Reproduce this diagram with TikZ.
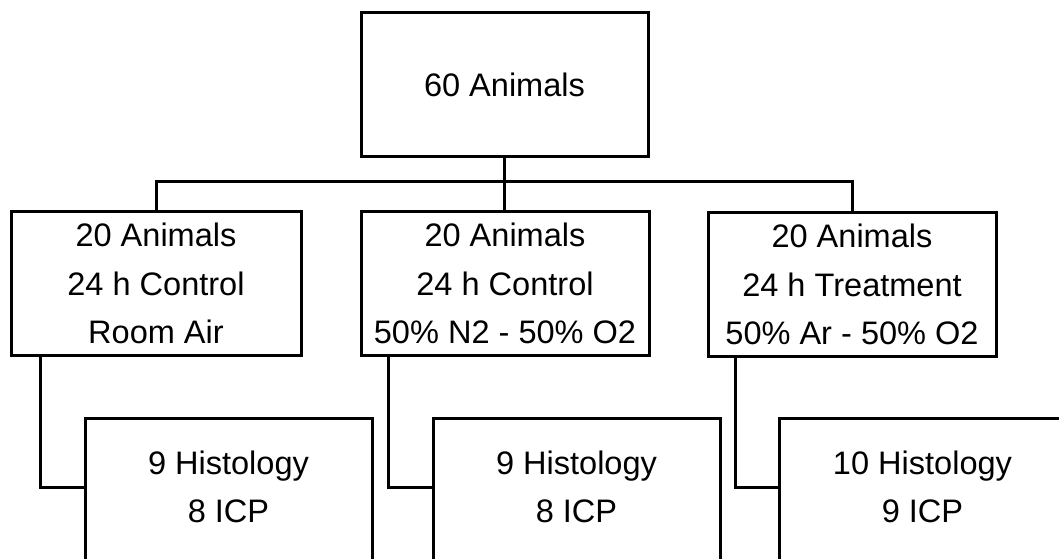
\documentclass[tikz,border=0pt]{standalone}
\usepackage{fontspec}
\setmainfont{Liberation Sans}
\usetikzlibrary{calc}
\tikzset{
  box/.style={draw, line width=2.25pt, inner sep=0pt, align=center,
    font=\fontsize{24.4pt}{36.4pt}\selectfont},
  lowbox/.style={draw, line width=2.25pt, inner sep=0pt, anchor=north,
    minimum width={287*0.75pt}, minimum height={200*0.75pt}},
  lowtext/.style={inner sep=0pt, align=center,
    font=\fontsize{24.4pt}{36.4pt}\selectfont},
  link/.style={line width=2.25pt}
}
\begin{document}
\begin{tikzpicture}[x=0.75pt,y=-0.75pt]
\useasboundingbox (0,0) rectangle (1059,559);
\clip (0,0) rectangle (1059,559);
\fill[white] (0,0) rectangle (1059,559);
% top
\node[box, minimum width={287*0.75pt}, minimum height={144*0.75pt}] (top) at (504.5,85) {60 Animals};
% middle
\node[box, minimum width={290*0.75pt}, minimum height={143*0.75pt}] (m1) at (156,283.5) {20 Animals\\24 h Control\\Room Air};
\node[box, minimum width={288*0.75pt}, minimum height={143*0.75pt}] (m2) at (505,283.5) {20 Animals\\24 h Control\\50\% N2 - 50\% O2};
\node[box, minimum width={288*0.75pt}, minimum height={143*0.75pt}] (m3) at (852,284.5) {20 Animals\\24 h Treatment\\50\% Ar - 50\% O2};
% bottom
\node[lowbox] (h1) at (228.5,417) {};
\node[lowbox] (h2) at (576.5,417) {};
\node[lowbox] (h3) at (922.5,417) {};
\node[lowtext] (t1) at (228.5,487) {9 Histology\\8 ICP};
\node[lowtext] (t2) at (576.5,487) {9 Histology\\8 ICP};
\node[lowtext] (t3) at (922.5,487) {10 Histology\\9 ICP};
% bus
\coordinate (bus) at (504.5,182);
\draw[link] (top.south) -- (bus);
\draw[link] (m1.north) |- (bus) -| (m3.north);
\draw[link] (bus) -- (bus |- m2.north);
% drops
\draw[link] ($(m1.south west)+(31,0)$) |- (h1.west |- t1);
\draw[link] ($(m2.south west)+(29,0)$) |- (h2.west |- t2);
\draw[link] ($(m3.south west)+(29,0)$) |- (h3.west |- t3);
\end{tikzpicture}
\end{document}
